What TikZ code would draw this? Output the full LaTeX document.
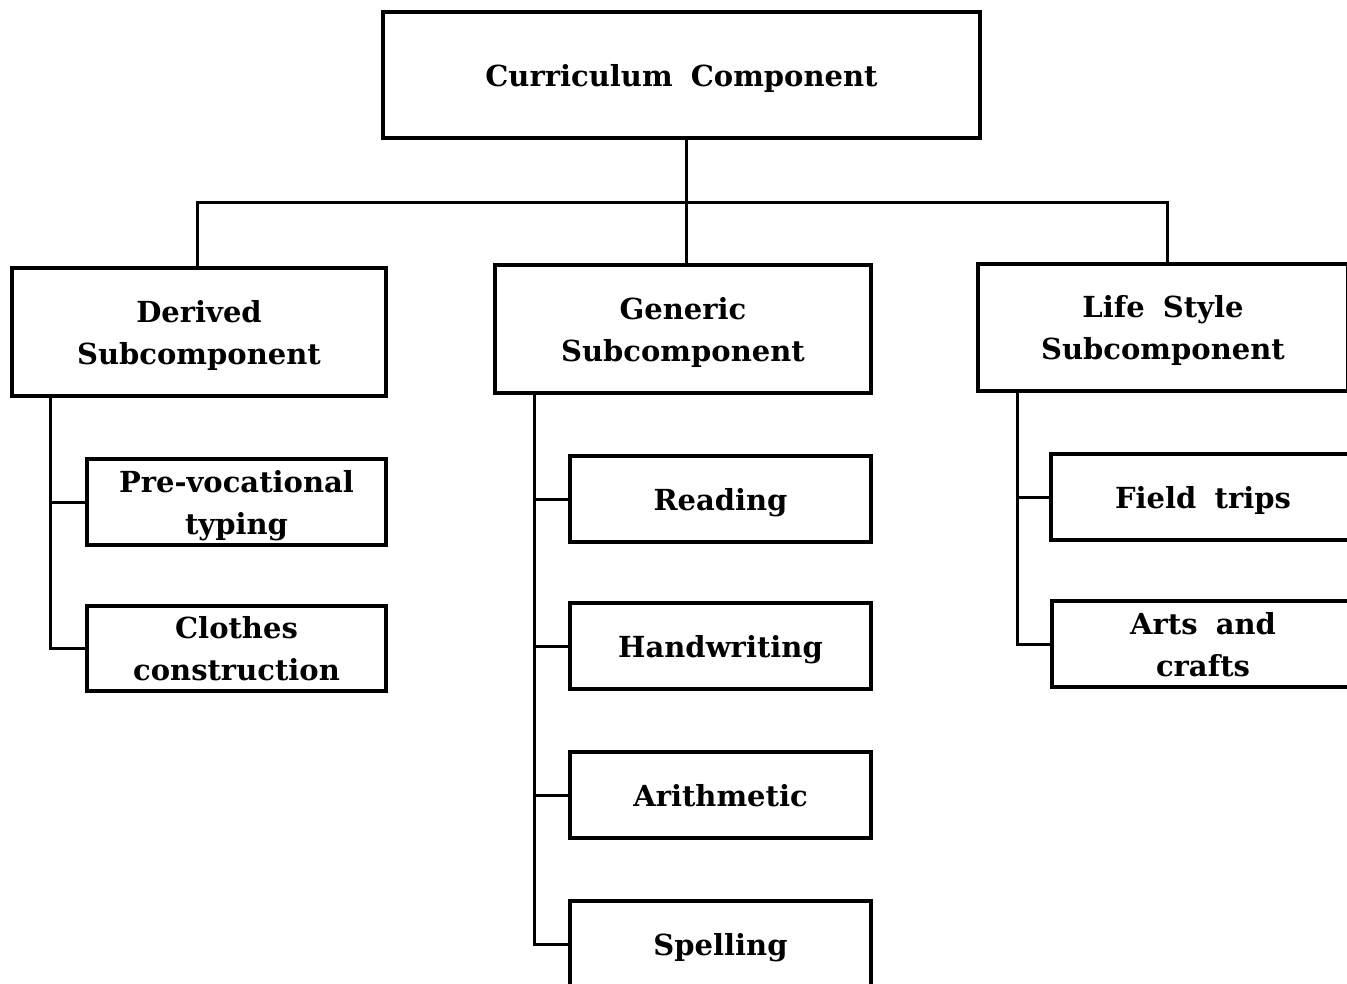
\documentclass[tikz,border=0pt]{standalone}
\usepackage{fontspec}
\setmainfont{DejaVu Serif}[WordSpace=1.8]
\begin{document}
\begin{tikzpicture}[x=1pt,y=-1pt,
  box/.style={draw, line width=3.2pt, inner sep=0pt, align=center, text depth=0pt,
    font=\fontsize{29}{42}\selectfont\bfseries},
  wire/.style={line width=3pt}]
\useasboundingbox (0,0) rectangle (1347,984);
\clip (0,0) rectangle (1347,984);

% top level
\node[box, minimum width=597pt, minimum height=126pt] (cc) at (681.5,75) {Curriculum Component};

% subcomponents
\node[box, minimum width=374pt, minimum height=128pt] (der) at (199,332) {Derived\\Subcomponent};
\node[box, minimum width=376pt, minimum height=128pt] (gen) at (683,329) {Generic\\Subcomponent};
\node[box, minimum width=370pt, minimum height=127pt] (life) at (1163,327.5) {Life Style\\Subcomponent};

% derived items
\node[box, minimum width=299pt, minimum height=86pt] (pv) at (236.5,502) {Pre-vocational\\typing};
\node[box, minimum width=299pt, minimum height=85pt] (clo) at (236.5,648.5) {Clothes\\construction};

% generic items
\node[box, minimum width=301pt, minimum height=86pt] (rea) at (720.5,499) {Reading};
\node[box, minimum width=301pt, minimum height=86pt] (han) at (720.5,646) {Handwriting};
\node[box, minimum width=301pt, minimum height=86pt] (ari) at (720.5,795) {Arithmetic};
\node[box, minimum width=301pt, minimum height=86pt] (spe) at (720.5,944) {Spelling};

% life style items
\node[box, minimum width=304pt, minimum height=86pt] (fie) at (1203,497) {Field trips};
\node[box, minimum width=302pt, minimum height=86pt] (art) at (1203,644) {Arts and\\crafts};

% bus from the top box to the three subcomponents
\coordinate (bus) at (686,203);
\coordinate (busL) at (197,203);
\coordinate (busR) at (1167,203);
\draw[wire] (bus |- cc.south) -- (bus |- gen.north);
\draw[wire] (busL |- der.north) -- (busL) -- (busR) -- (busR |- life.north);

% trunks with branches
\coordinate (tD) at (50,0);
\coordinate (tG) at (534,0);
\coordinate (tL) at (1017,0);
\draw[wire] (tD |- der.south) -- (tD |- clo.west) -- (clo.west);
\draw[wire] (tD |- pv.west) -- (pv.west);
\draw[wire] (tG |- gen.south) -- (tG |- spe.west) -- (spe.west);
\draw[wire] (tG |- rea.west) -- (rea.west);
\draw[wire] (tG |- han.west) -- (han.west);
\draw[wire] (tG |- ari.west) -- (ari.west);
\draw[wire] (tL |- life.south) -- (tL |- art.west) -- (art.west);
\draw[wire] (tL |- fie.west) -- (fie.west);
\end{tikzpicture}
\end{document}
